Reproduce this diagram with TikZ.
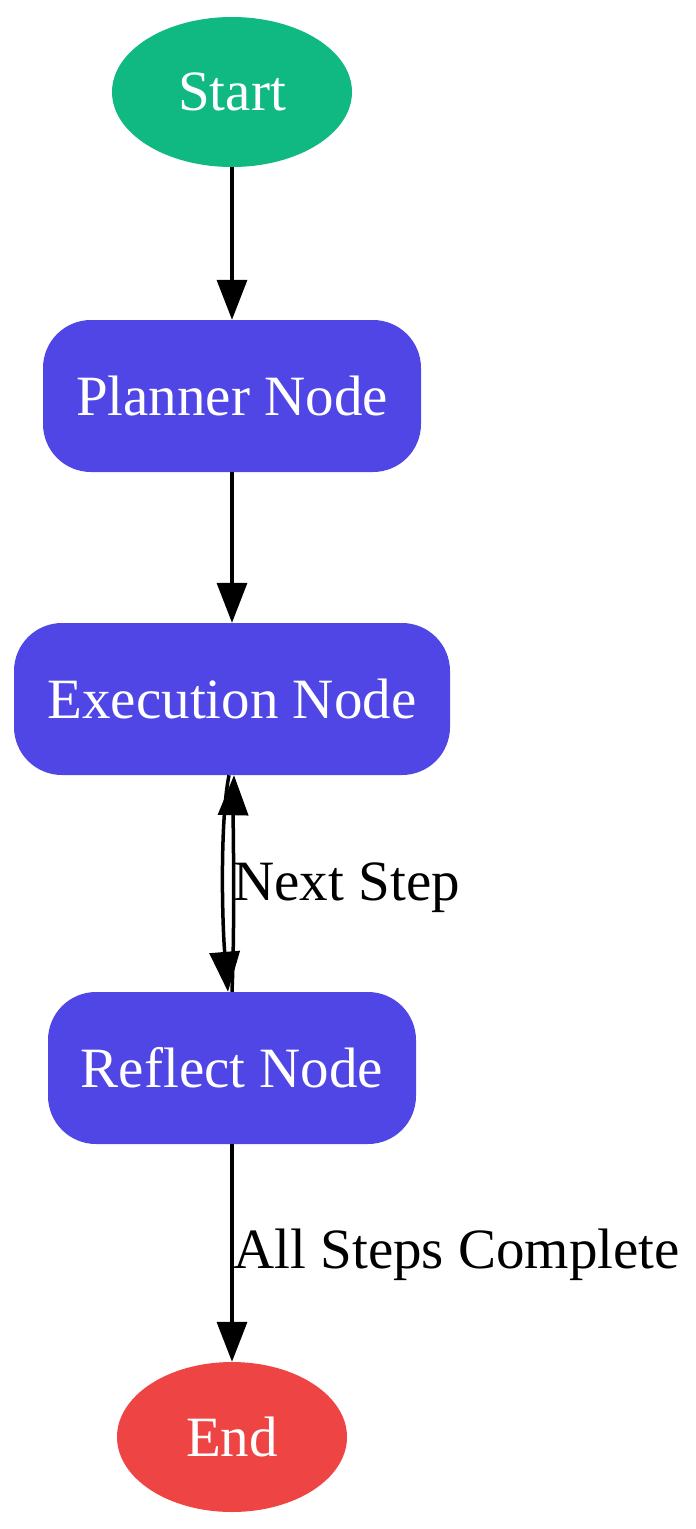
\documentclass[tikz,border=0pt]{standalone}
\usepackage{fontspec}
\setmainfont{Liberation Serif}
\usetikzlibrary{shapes.geometric,arrows.meta}
\definecolor{cgreen}{HTML}{10B981}
\definecolor{cblue}{HTML}{4F46E5}
\definecolor{cred}{HTML}{EF4444}
\begin{document}
\begin{tikzpicture}[x=1pt,y=-1pt,
  every node/.style={font=\fontsize{57}{64}\selectfont},
  ell/.style={ellipse,draw=none,text=white,inner sep=0pt},
  box/.style={rectangle,rounded corners=48pt,fill=cblue,text=white,inner sep=0pt,minimum height=152pt},
  arr/.style={line width=3.5pt,-{Triangle[length=40pt,width=30pt]}},
  lab/.style={text=black,anchor=west}]
\useasboundingbox (0,0) rectangle (696,1529);
\node[ell,fill=cgreen,minimum width=240pt,minimum height=150pt] (start) at (232,92) {Start};
\node[box,minimum width=378pt] (plan) at (232,396) {Planner Node};
\node[box,minimum width=436pt] (exec) at (232,699) {Execution Node};
\node[box,minimum width=368pt] (refl) at (232,1068) {Reflect Node};
\node[ell,fill=cred,minimum width=230pt,minimum height=150pt] (end) at (232,1437) {End};
\draw[arr] (start) -- (plan);
\draw[arr] (plan) -- (exec);
\draw[arr] ([xshift=-3pt]exec.south) .. controls (220,820) and (222,920) .. ([xshift=-4pt]refl.north);
\draw[arr] ([xshift=0pt]refl.north) .. controls (235,920) and (233,820) .. ([xshift=2pt]exec.south);
\node[lab] (ns) at (230,888) {Next Step};
\draw[arr] (refl) -- (end);
\node[lab] (asc) at (230,1255) {All Steps Complete};
\end{tikzpicture}
\end{document}
